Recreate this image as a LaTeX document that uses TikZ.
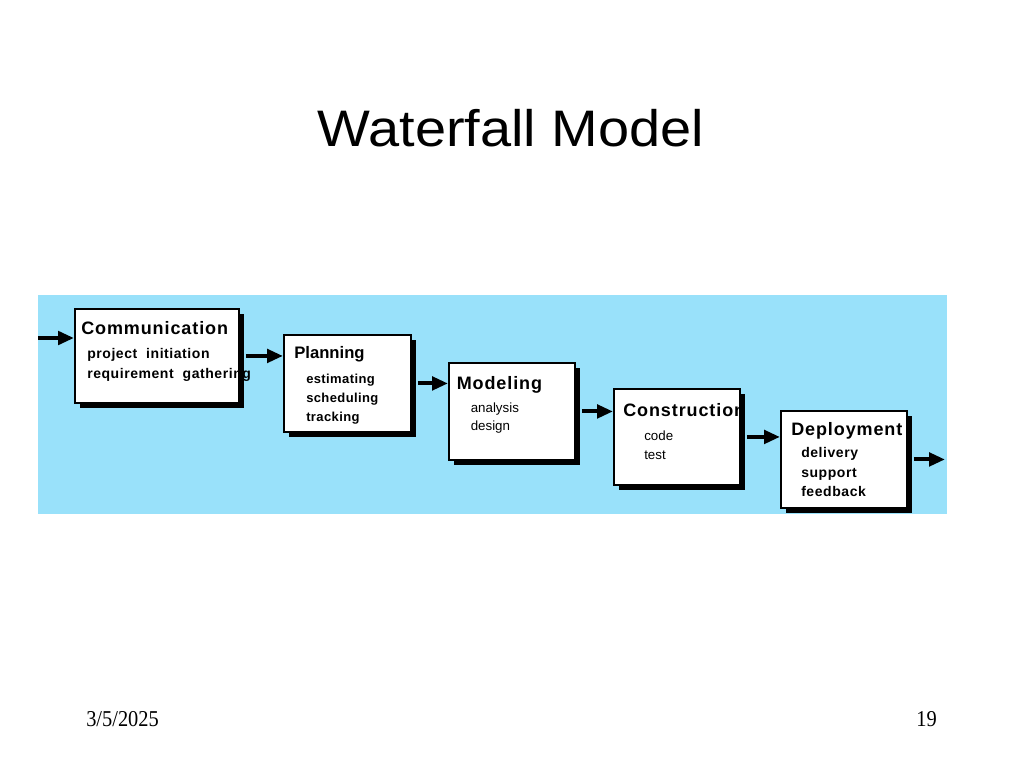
\documentclass[tikz,border=0pt]{standalone}
\usepackage{fontspec}
\setmainfont{Liberation Sans}
\newfontfamily\serif{Liberation Serif}
\newfontfamily\trk[LetterSpace=5]{Liberation Sans}
\newfontfamily\trki[LetterSpace=4]{Liberation Sans}
\newfontfamily\trks[LetterSpace=3]{Liberation Sans}
\usetikzlibrary{arrows.meta,shadows}
\definecolor{bgblue}{RGB}{153,225,250}
\tikzset{
  stage/.style={draw=black, line width=1.4pt, fill=white, anchor=north west, inner sep=0pt,
    drop shadow={shadow xshift=4pt, shadow yshift=-4pt, fill=black, opacity=1}},
  arr/.style={line width=3pt, -{Triangle[length=12pt,width=10pt]}},
  lbl/.style={anchor=base west, inner sep=0pt},
  ttl/.style={lbl, font=\trk\bfseries\fontsize{13.5}{16}\selectfont},
  ttlp/.style={lbl, font=\bfseries\fontsize{12.5}{14}\selectfont},
  itb/.style={lbl, font=\trki\bfseries\fontsize{10.5}{12}\selectfont},
  itp/.style={lbl, font=\trks\bfseries\fontsize{9.75}{12}\selectfont},
  itr/.style={lbl, font=\fontsize{10}{12}\selectfont},
}
\begin{document}
\begin{tikzpicture}[x=0.75pt,y=-0.75pt]
\useasboundingbox (0,0) rectangle (1024,768);
\fill[white] (0,0) rectangle (1024,768);
\node[anchor=base, inner sep=0pt, font=\fontsize{38.5}{46}\selectfont] (title) at (511,146) {\scalebox{1.09}[1]{Waterfall Model}};
\fill[bgblue] (38,295) rectangle (947,514);
% boxes
\node[stage, minimum width=123pt, minimum height=70.5pt] (comm) at (74,308) {};
\node[stage, minimum width=95.25pt, minimum height=72.75pt] (plan) at (283,334) {};
\node[stage, minimum width=94.5pt, minimum height=72.75pt] (model) at (448,362) {};
\node[stage, minimum width=94.5pt, minimum height=72pt] (cons) at (613,388) {};
\node[stage, minimum width=94.5pt, minimum height=72.75pt] (depl) at (780,410) {};
% texts
\node[ttl] (commT) at (81,334) {Communication};
\node[itb] (commA) at (87,358.5) {project\ \ initiation};
\node[itb] (commB) at (87,378.5) {requirement\ \ gathering};
\node[ttlp] (planT) at (294,358.5) {Planning};
\node[itp] (planA) at (306,383.5) {estimating};
\node[itp] (planB) at (306,402.5) {scheduling};
\node[itp] (planC) at (306,421.5) {tracking};
\node[ttl] (modelT) at (456.5,389.5) {Modeling};
\node[itr] (modelA) at (470.5,412.5) {analysis};
\node[itr] (modelB) at (470.5,430.5) {design};
\node[ttl] (consT) at (623,416) {Construction};
\node[itr] (consA) at (644,440) {code};
\node[itr] (consB) at (644,459.5) {test};
\node[ttl] (deplT) at (791,435.5) {Deployment};
\node[itb] (deplA) at (801,457.5) {delivery};
\node[itb] (deplB) at (801,477) {support};
\node[itb] (deplC) at (801,496) {feedback};
% arrows
\coordinate (start) at (38,338);
\coordinate (finish) at (945,458);
\draw[arr] (start) -- (start -| comm.west);
\draw[arr] ([xshift=4.5pt]comm.east) -- (comm.east -| plan.west);
\draw[arr] ([xshift=4.5pt]plan.east) -- (plan.east -| model.west);
\draw[arr] ([xshift=4.5pt]model.east) -- (model.east -| cons.west);
\draw[arr] ([xshift=4.5pt]cons.east) -- (cons.east -| depl.west);
\draw[arr] ([xshift=4.5pt]depl.east) -- (depl.east -| finish);
% footer
\node[anchor=base west, inner sep=0pt, font=\serif\fontsize{17}{20}\selectfont] (date) at (86,726) {\scalebox{0.9}[1]{3/5/2025}};
\node[anchor=base east, inner sep=0pt, font=\serif\fontsize{17}{20}\selectfont] (page) at (937,726) {\scalebox{0.9}[1]{19}};
\end{tikzpicture}
\end{document}
